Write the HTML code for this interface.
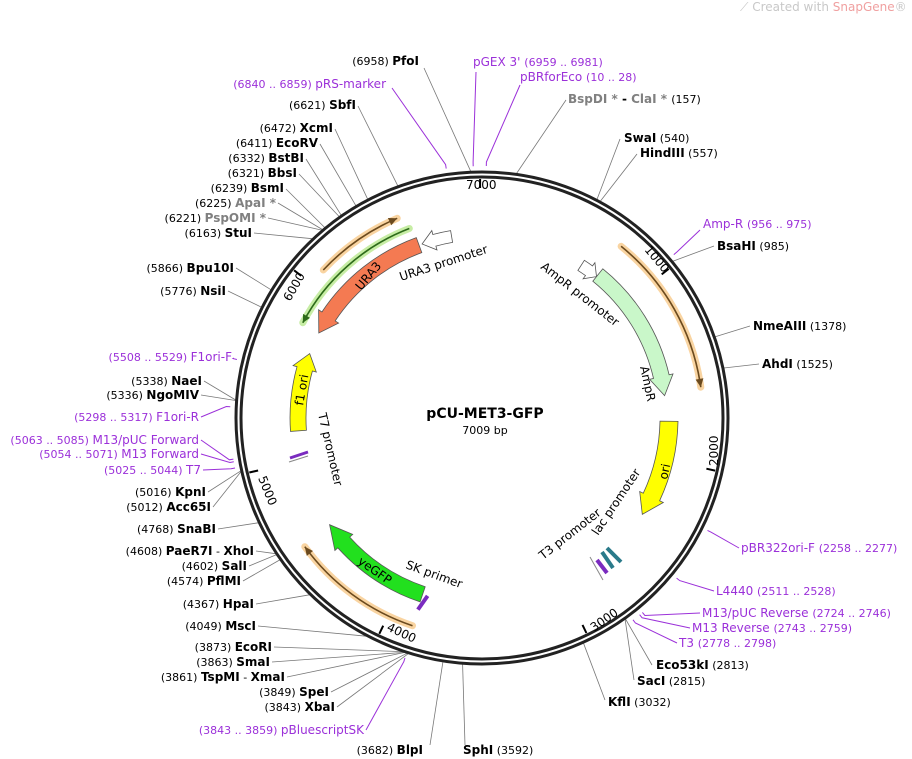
<!DOCTYPE html>
<html><head><meta charset="utf-8">
<style>
body{margin:0;background:#fff;}
svg{display:block;font-family:"DejaVu Sans","Liberation Sans",sans-serif;}
.b{font-weight:bold;fill:#000;font-size:12px}
.n{fill:#000;font-size:11px}
.p{fill:#9b30d9;font-size:12px}
.pn{fill:#9b30d9;font-size:11px}
.g{fill:#808080;font-weight:bold;font-size:12px}
.f{font-size:12px;fill:#000}
</style></head><body>
<svg id="s" width="912" height="759" viewBox="0 0 912 759" xmlns="http://www.w3.org/2000/svg">
<g id="lines" stroke="#777" stroke-width="0.8" fill="none"></g>
<g id="plines" stroke="#9b30d9" stroke-width="1" fill="none"></g>
<circle cx="482" cy="418" r="246" fill="none" stroke="#222" stroke-width="3"/>
<circle cx="482" cy="418" r="241" fill="none" stroke="#222" stroke-width="3"/>
<g id="feat"></g>
<g id="ticks" stroke="#000" stroke-width="2"></g>

<path d="M290,458 L308,452" stroke="#7a2bbf" stroke-width="3"/>
<path d="M289,462 L308,456" stroke="#888" stroke-width="1"/>
<path d="M607,548 L621,562" stroke="#2a7a8a" stroke-width="4"/>
<path d="M602,552 L613,568" stroke="#2a7a8a" stroke-width="4"/>
<path d="M597,560 L607,573" stroke="#7a2bbf" stroke-width="4"/>
<path d="M590,557 L603,580" stroke="#888" stroke-width="1"/>

<text x="740" y="11" style="font-size:12px;fill:#c8c8c8">⟋ Created with <tspan fill="#f0a0a0">SnapGene</tspan>®</text>

<text x="485" y="418" text-anchor="middle" style="font-weight:bold;font-size:14px">pCU-MET3-GFP</text>
<text x="485" y="434" text-anchor="middle" style="font-size:11px">7009 bp</text>

<text x="466" y="189" class="f">7000</text>
<text transform="translate(644,250) rotate(50)" class="f">1000</text>
<text transform="translate(718,466) rotate(-90)" class="f">2000</text>
<text transform="translate(594,632) rotate(-35)" class="f">3000</text>
<text transform="translate(386,630) rotate(25)" class="f">4000</text>
<text transform="translate(258,478) rotate(68)" class="f">5000</text>
<text transform="translate(290,302) rotate(-60)" class="f">6000</text>

<text transform="translate(361,291) rotate(-50)" class="f">URA3</text>
<text transform="translate(401,281) rotate(-18)" class="f">URA3 promoter</text>
<text transform="translate(540,268) rotate(38)" class="f">AmpR promoter</text>
<text transform="translate(640,367) rotate(78)" class="f">AmpR</text>
<text transform="translate(667,480) rotate(-78)" class="f">ori</text>
<text transform="translate(303,406) rotate(-80)" class="f">f1 ori</text>
<text transform="translate(318,414) rotate(77)" class="f">T7 promoter</text>
<text transform="translate(598,536) rotate(-56)" class="f">lac promoter</text>
<text transform="translate(543,560) rotate(-38)" class="f">T3 promoter</text>
<text transform="translate(357,563) rotate(35)" class="f">yeGFP</text>
<text transform="translate(405,568) rotate(20)" class="f">SK primer</text>

<text x="419" y="65" text-anchor="end"><tspan class="n">(6958) </tspan><tspan class="b">PfoI</tspan></text>
<text x="473" y="66" class="p">pGEX 3'  <tspan class="pn">(6959 .. 6981)</tspan></text>
<text x="520" y="81" class="p">pBRforEco  <tspan class="pn">(10 .. 28)</tspan></text>
<text x="386" y="88" text-anchor="end" class="p"><tspan class="pn">(6840 .. 6859) </tspan>pRS-marker</text>
<text x="568" y="103" class="g">BspDI * <tspan fill="#000">- </tspan>ClaI * <tspan class="n" font-weight="normal"> (157)</tspan></text>
<text x="356" y="109" text-anchor="end"><tspan class="n">(6621) </tspan><tspan class="b">SbfI</tspan></text>
<text x="624" y="142"><tspan class="b">SwaI</tspan><tspan class="n">   (540)</tspan></text>
<text x="640" y="157"><tspan class="b">HindIII</tspan><tspan class="n">   (557)</tspan></text>
<text x="333" y="132" text-anchor="end"><tspan class="n">(6472) </tspan><tspan class="b">XcmI</tspan></text>
<text x="318" y="147" text-anchor="end"><tspan class="n">(6411) </tspan><tspan class="b">EcoRV</tspan></text>
<text x="304" y="162" text-anchor="end"><tspan class="n">(6332) </tspan><tspan class="b">BstBI</tspan></text>
<text x="297" y="177" text-anchor="end"><tspan class="n">(6321) </tspan><tspan class="b">BbsI</tspan></text>
<text x="284" y="192" text-anchor="end"><tspan class="n">(6239) </tspan><tspan class="b">BsmI</tspan></text>
<text x="276" y="207" text-anchor="end"><tspan class="n">(6225) </tspan><tspan class="g">ApaI *</tspan></text>
<text x="266" y="222" text-anchor="end"><tspan class="n">(6221) </tspan><tspan class="g">PspOMI *</tspan></text>
<text x="252" y="237" text-anchor="end"><tspan class="n">(6163) </tspan><tspan class="b">StuI</tspan></text>
<text x="703" y="228" class="p">Amp-R   <tspan class="pn">(956 .. 975)</tspan></text>
<text x="717" y="250"><tspan class="b">BsaHI</tspan><tspan class="n">   (985)</tspan></text>
<text x="234" y="272" text-anchor="end"><tspan class="n">(5866) </tspan><tspan class="b">Bpu10I</tspan></text>
<text x="226" y="295" text-anchor="end"><tspan class="n">(5776) </tspan><tspan class="b">NsiI</tspan></text>
<text x="753" y="330"><tspan class="b">NmeAIII</tspan><tspan class="n">   (1378)</tspan></text>
<text x="762" y="368"><tspan class="b">AhdI</tspan><tspan class="n">   (1525)</tspan></text>
<text x="232" y="361" text-anchor="end" class="p"><tspan class="pn">(5508 .. 5529)  </tspan>F1ori-F</text>
<text x="202" y="385" text-anchor="end"><tspan class="n">(5338) </tspan><tspan class="b">NaeI</tspan></text>
<text x="199" y="399" text-anchor="end"><tspan class="n">(5336) </tspan><tspan class="b">NgoMIV</tspan></text>
<text x="199" y="421" text-anchor="end" class="p"><tspan class="pn">(5298 .. 5317)  </tspan>F1ori-R</text>
<text x="199" y="444" text-anchor="end" class="p"><tspan class="pn">(5063 .. 5085)  </tspan>M13/pUC Forward</text>
<text x="199" y="458" text-anchor="end" class="p"><tspan class="pn">(5054 .. 5071)  </tspan>M13 Forward</text>
<text x="201" y="474" text-anchor="end" class="p"><tspan class="pn">(5025 .. 5044)  </tspan>T7</text>
<text x="206" y="496" text-anchor="end"><tspan class="n">(5016) </tspan><tspan class="b">KpnI</tspan></text>
<text x="211" y="511" text-anchor="end"><tspan class="n">(5012) </tspan><tspan class="b">Acc65I</tspan></text>
<text x="216" y="533" text-anchor="end"><tspan class="n">(4768) </tspan><tspan class="b">SnaBI</tspan></text>
<text x="254" y="555" text-anchor="end"><tspan class="n">(4608) </tspan><tspan class="b">PaeR7I</tspan><tspan class="n"> - </tspan><tspan class="b">XhoI</tspan></text>
<text x="247" y="570" text-anchor="end"><tspan class="n">(4602) </tspan><tspan class="b">SalI</tspan></text>
<text x="241" y="585" text-anchor="end"><tspan class="n">(4574) </tspan><tspan class="b">PflMI</tspan></text>
<text x="254" y="608" text-anchor="end"><tspan class="n">(4367) </tspan><tspan class="b">HpaI</tspan></text>
<text x="256" y="630" text-anchor="end"><tspan class="n">(4049) </tspan><tspan class="b">MscI</tspan></text>
<text x="272" y="651" text-anchor="end"><tspan class="n">(3873) </tspan><tspan class="b">EcoRI</tspan></text>
<text x="270" y="666" text-anchor="end"><tspan class="n">(3863) </tspan><tspan class="b">SmaI</tspan></text>
<text x="285" y="681" text-anchor="end"><tspan class="n">(3861) </tspan><tspan class="b">TspMI</tspan><tspan class="n"> - </tspan><tspan class="b">XmaI</tspan></text>
<text x="329" y="696" text-anchor="end"><tspan class="n">(3849) </tspan><tspan class="b">SpeI</tspan></text>
<text x="335" y="711" text-anchor="end"><tspan class="n">(3843) </tspan><tspan class="b">XbaI</tspan></text>
<text x="364" y="734" text-anchor="end" class="p"><tspan class="pn">(3843 .. 3859)  </tspan>pBluescriptSK</text>
<text x="423" y="754" text-anchor="end"><tspan class="n">(3682) </tspan><tspan class="b">BlpI</tspan></text>
<text x="463" y="754"><tspan class="b">SphI</tspan><tspan class="n">   (3592)</tspan></text>
<text x="608" y="706"><tspan class="b">KflI</tspan><tspan class="n">   (3032)</tspan></text>
<text x="637" y="685"><tspan class="b">SacI</tspan><tspan class="n">   (2815)</tspan></text>
<text x="656" y="669"><tspan class="b">Eco53kI</tspan><tspan class="n">   (2813)</tspan></text>
<text x="679" y="647" class="p">T3   <tspan class="pn">(2778 .. 2798)</tspan></text>
<text x="692" y="632" class="p">M13 Reverse   <tspan class="pn">(2743 .. 2759)</tspan></text>
<text x="702" y="617" class="p">M13/pUC Reverse   <tspan class="pn">(2724 .. 2746)</tspan></text>
<text x="716" y="595" class="p">L4440   <tspan class="pn">(2511 .. 2528)</tspan></text>
<text x="741" y="552" class="p">pBR322ori-F   <tspan class="pn">(2258 .. 2277)</tspan></text>
</svg>
<script>
var cx=482,cy=418,N=7009,NS="http://www.w3.org/2000/svg";
function P(r,a){a=a*Math.PI/180;return [cx+r*Math.sin(a),cy-r*Math.cos(a)];}
function s(p){return p[0].toFixed(1)+","+p[1].toFixed(1);}
function add(g,tag,at){var e=document.createElementNS(NS,tag);for(var k in at)e.setAttribute(k,at[k]);document.getElementById(g).appendChild(e);return e;}
function arc(r,a,b,sw){return "A"+r+","+r+" 0 "+(Math.abs(b-a)>180?1:0)+","+sw+" "+s(P(r,b));}
function arrow(r1,r2,a1,a2,h,dir,fill){var rm=(r1+r2)/2,w=4,d;
 if(dir>0){var ah=a2-h;d="M"+s(P(r2,a1))+arc(r2,a1,ah,1)+"L"+s(P(r2+w,ah))+"L"+s(P(rm,a2))+"L"+s(P(r1-w,ah))+"L"+s(P(r1,ah))+arc(r1,ah,a1,0)+"Z";}
 else{var ah=a1+h;d="M"+s(P(rm,a1))+"L"+s(P(r2+w,ah))+"L"+s(P(r2,ah))+arc(r2,ah,a2,1)+"L"+s(P(r1,a2))+arc(r1,a2,ah,0)+"L"+s(P(r1-w,ah))+"Z";}
 add("feat","path",{d:d,fill:fill,stroke:"#555","stroke-width":0.8});}
function thin(r,a1,a2,dir,halo,col){var d="M"+s(P(r,a1))+arc(r,a1,a2,1);
 add("feat","path",{d:d,fill:"none",stroke:halo,"stroke-width":7,"stroke-linecap":"round","stroke-opacity":0.8});
 add("feat","path",{d:d,fill:"none",stroke:col,"stroke-width":1.6});
 var t=dir>0?a2:a1,b=dir>0?a2-2.2:a1+2.2;
 add("feat","path",{d:"M"+s(P(r-4,b))+"L"+s(P(r,t))+"L"+s(P(r+4,b))+"Z",fill:col});}
thin(217,-47,-23,1,"#f8c98a","#6b4a1e");
thin(221,39,82,1,"#f8c98a","#6b4a1e");
thin(219,198.5,234,1,"#f8c98a","#6b4a1e");
thin(203,-62,-21,-1,"#b9e98f","#2d6b1a");
arrow(176,192,-62.5,-20,6,-1,"#f47a52");
arrow(178,190,-19,-9.5,4,-1,"#fff");
arrow(176,188,33,39,3,1,"#fff");
arrow(176,192,39,83,6,1,"#c9f7c9");
arrow(178,196,91,121,6,1,"#ffff00");
arrow(176,192,-94,-69.5,5,1,"#ffff00");
arrow(178,194,198.6,235,7,1,"#22e01e");
add("feat","path",{d:"M"+s(P(186,197))+"L"+s(P(202,198.5)),stroke:"#7a2bbf","stroke-width":4,fill:"none"});
[1000,2000,3000,4000,5000,6000,7000].forEach(function(b){var a=b/N*360;add("ticks","path",{d:"M"+s(P(239,a))+"L"+s(P(230,a))});});
var L=[[6958,424,68],[157,566,100],[6621,358,106],[540,620,139],[557,637,154],[6472,335,129],[6411,320,144],[6332,306,159],[6321,299,174],[6239,286,189],[6225,278,203],[6221,268,218],[6163,254,233],[985,714,246],[5866,236,268],[5776,228,291],[1378,750,326],[1525,759,364],[5338,204,381],[5336,201,395],[5016,208,492],[5012,213,507],[4768,218,529],[4608,256,551],[4602,249,566],[4574,243,581],[4367,256,604],[4049,258,626],[3873,274,647],[3863,272,662],[3861,287,677],[3849,331,692],[3843,337,707],[3682,430,745],[3592,465,745],[3032,605,700],[2815,634,680],[2813,652,665]];
L.forEach(function(l){var p=P(247,l[0]/N*360);add("lines","path",{d:"M"+l[1]+","+l[2]+"L"+s(p)});});
var PL=[[6970,476,72],[19,520,85],[6850,392,88],[965,700,230],[5518,234,358],[5307,201,417],[5074,201,440],[5062,201,454],[5034,203,470],[3851,366,730],[2735,700,613],[2751,690,628],[2788,677,643],[2520,714,591],[2268,739,548]];
PL.forEach(function(l){var a=l[0]/N*360,p=P(252,a),q=P(256,a);add("plines","path",{d:"M"+l[1]+","+l[2]+"L"+s(q)+"L"+s(p)});});
</script>
</body></html>
